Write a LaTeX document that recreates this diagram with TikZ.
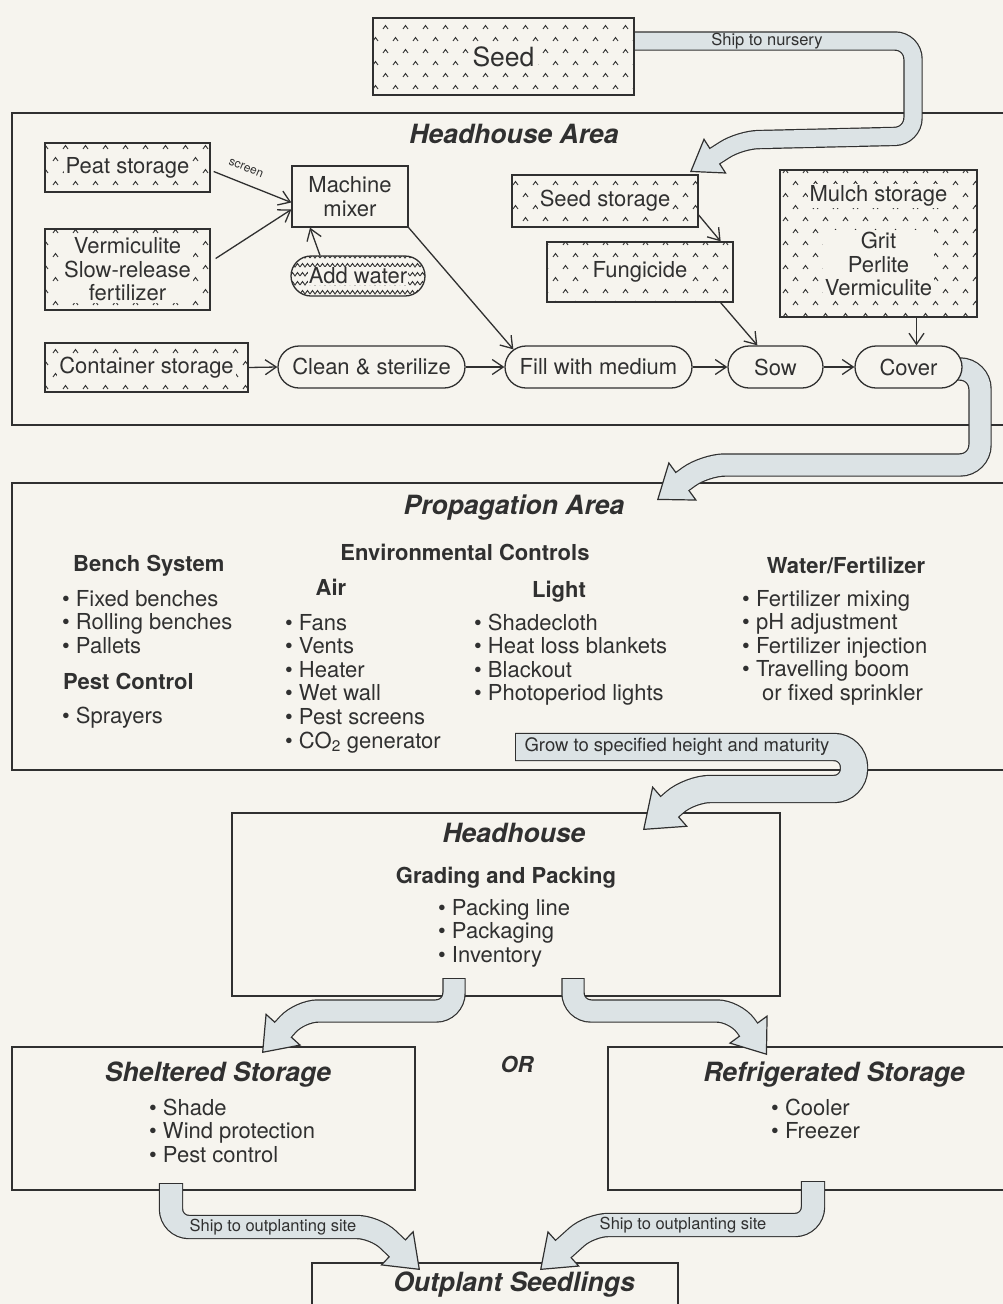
\documentclass[tikz,border=0pt]{standalone}
\usepackage{fontspec}
\setmainfont{TeX Gyre Heros}
\usetikzlibrary{arrows.meta,patterns,calc}
\definecolor{bgc}{HTML}{F6F4EE}
\definecolor{ink}{HTML}{303030}
\definecolor{bandc}{HTML}{DCE3E5}
\pgfdeclarelayer{back}
\pgfdeclarelayer{mid}
\pgfsetlayers{back,mid,main}
\pgfdeclarepatternformonly{carets}{\pgfpoint{-1pt}{-1pt}}{\pgfpoint{21pt}{25pt}}{\pgfpoint{20pt}{24pt}}{%
 \pgfsetlinewidth{0.9pt}%
 \pgfpathmoveto{\pgfpoint{3pt}{3pt}}\pgfpathlineto{\pgfpoint{5.5pt}{6.5pt}}\pgfpathlineto{\pgfpoint{8pt}{3pt}}%
 \pgfpathmoveto{\pgfpoint{13pt}{15pt}}\pgfpathlineto{\pgfpoint{15.5pt}{18.5pt}}\pgfpathlineto{\pgfpoint{18pt}{15pt}}%
 \pgfusepath{stroke}}
\pgfdeclarepatternformonly{zigs}{\pgfpoint{-1pt}{-1pt}}{\pgfpoint{11pt}{10pt}}{\pgfpoint{10pt}{9pt}}{%
 \pgfsetlinewidth{0.9pt}%
 \pgfpathmoveto{\pgfpoint{0pt}{2pt}}\pgfpathlineto{\pgfpoint{2.5pt}{5.5pt}}\pgfpathlineto{\pgfpoint{5pt}{2pt}}\pgfpathlineto{\pgfpoint{7.5pt}{5.5pt}}\pgfpathlineto{\pgfpoint{10pt}{2pt}}%
 \pgfusepath{stroke}}
% #1 band width, #2 start shorten, #3 head length, #4 head width, #5 corner radius, #6 path
\newcommand\bandarrow[6]{%
 \pgfmathsetmacro\bandshort{0.6*#3}%
 \draw[ink, line width=#1pt+2.4pt, rounded corners=#5pt, -{Triangle[length=#3pt, width=#4pt, line width=1.2pt, fill=bandc]}] #6;
 \draw[bandc, line width=#1pt, rounded corners=#5pt, shorten <=#2pt, shorten >=\bandshort pt] #6;}
\tikzset{
 every node/.style={text=ink, font=\fontsize{22}{23.5}\selectfont},
 area/.style={draw=ink, line width=2.6pt},
 hbox/.style={draw=ink, line width=1.3pt, pattern=carets, pattern color=ink, inner sep=0pt},
 clr/.style={fill=bgc, inner sep=2pt},
 pill/.style={draw=ink, line width=1.3pt, fill=bgc, rounded corners=21pt, minimum height=42pt, inner sep=0pt},
 plainbox/.style={draw=ink, line width=1.3pt, fill=bgc, inner sep=0pt},
 arr/.style={draw=ink, line width=1.3pt, -{Straight Barb[length=11pt,width=15pt,line width=1.3pt]}},
 title/.style={font=\fontsize{26.5}{28}\selectfont\bfseries\itshape},
 head/.style={font=\fontsize{22}{23.5}\selectfont\bfseries, inner sep=0pt},
 item/.style={anchor=base west, inner sep=0pt},
 bandtxt/.style={font=\fontsize{16.5}{17}\selectfont, inner sep=0pt},
}
\begin{document}
\begin{tikzpicture}[x=1pt,y=-1pt]
\useasboundingbox (0,0) rectangle (1003,1304);
\begin{pgfonlayer}{back}
\fill[bgc] (0,0) rectangle (1003,1304);
\draw[area] (1006,113) -- (12,113) -- (12,425) -- (1006,425);
\draw[area] (1006,483) -- (12,483) -- (12,770) -- (1006,770);
\draw[area] (232,813) rectangle (780,996);
\draw[area] (12,1047) rectangle (415,1190);
\draw[area] (1006,1047) -- (608,1047) -- (608,1190) -- (1006,1190);
\draw[area] (312,1310) -- (312,1263) -- (678,1263) -- (678,1310);
\end{pgfonlayer}

% ---------- Seed ----------
\node[hbox, minimum width=261pt, minimum height=77pt] (seed) at (503.5,56.5) {};
\node[clr, inner sep=4pt, font=\fontsize{26.5}{28}\selectfont] (seedT) at (seed) {Seed};

% ---------- Headhouse Area ----------
\node[title] (haT) at (514,134) {Headhouse Area};
\node[hbox, minimum width=165pt, minimum height=49pt] (peat) at (127.5,167.5) {};
\node[clr] (peatT) at (peat) {Peat storage};
\node[hbox, minimum width=165pt, minimum height=81pt] (verm) at (127.5,269.5) {};
\node[clr, align=center] (vermT) at (verm) {Vermiculite\\Slow-release\\fertilizer};
\node[plainbox, minimum width=116pt, minimum height=61pt, align=center] (mixer) at (350,196.5) {Machine\\mixer};
\node[draw=ink, line width=1.3pt, rounded corners=20pt, minimum width=134pt, minimum height=40pt, pattern=zigs, pattern color=ink, inner sep=0pt] (water) at (358,276) {};
\node[clr, inner sep=1pt] (waterT) at (water) {Add water};
\node[hbox, minimum width=203pt, minimum height=49pt] (cont) at (146.5,367.5) {};
\node[clr] (contT) at (cont) {Container storage};
\node[pill, minimum width=187pt] (clean) at (371.5,367) {Clean \& sterilize};
\node[pill, minimum width=187pt] (fillm) at (598.5,367) {Fill with medium};
\node[pill, minimum width=95pt] (sow) at (775.5,367) {Sow};
\node[pill, minimum width=107pt] (cover) at (908.5,367) {Cover};
\node[hbox, minimum width=186pt, minimum height=52pt] (seedst) at (605,201) {};
\node[clr] (seedstT) at (seedst) {Seed storage};
\node[hbox, minimum width=186pt, minimum height=60pt] (fung) at (640,272) {};
\node[clr] (fungT) at (fung) {Fungicide};
\node[hbox, minimum width=197pt, minimum height=147pt] (mulch) at (878.5,243.5) {};
\node[clr] (mulchT) at (878.5,196) {Mulch storage};
\node[clr, align=center] (mulchL) at (878.5,264) {Grit\\Perlite\\Vermiculite};

\draw[arr] ($(peat.east)+(3,4)$) -- ($(mixer.west)+(0,6)$);
\node[font=\fontsize{12}{13}\selectfont, inner sep=0pt, rotate=-22] (scr) at (246,168) {screen};
\draw[arr] ($(verm.east)+(5,-11)$) -- ($(mixer.west)+(0,13)$);
\draw[arr] ($(water.north)+(-38,0)$) -- ($(mixer.south)+(-40,0)$);
\draw[arr] (mixer.south east) -- ($(fillm.north west)+(9,4)$);
\draw[arr] (cont.east) -- (clean.west);
\draw[arr] (clean.east) -- (fillm.west);
\draw[arr] (fillm.east) -- (sow.west);
\draw[arr] (sow.east) -- (cover.west);
\draw[arr] ($(seedst.east)+(0,14)$) -- ($(fung.north east)+(-13,0)$);
\draw[arr] ($(fung.south east)+(-13,0)$) -- ($(sow.north west)+(30,0)$);
\draw[arr] ($(mulch.south)+(38,0)$) -- ($(cover.north)+(8,0)$);

% ---------- Propagation Area ----------
\node[title] (paT) at (514,508) {Propagation Area};
\node[head, anchor=base west] (benchH) at (73,571) {Bench System};
\foreach \t [count=\i] in {Fixed benches,Rolling benches,Pallets}
  \node[item] (bench\i) at (62,{606+23.5*(\i-1)}) {\textbullet\ \t};
\node[head, anchor=base west] (pestH) at (63,689) {Pest Control};
\node[item] (pest1) at (62,723) {\textbullet\ Sprayers};
\node[head, anchor=base] (envH) at (465,560) {Environmental Controls};
\node[head, anchor=base] (airH) at (331,595) {Air};
\foreach \t [count=\i] in {Fans,Vents,Heater,Wet wall,Pest screens,{CO\textsubscript{2} generator}}
  \node[item] (air\i) at (285,{630+23.6*(\i-1)}) {\textbullet\ \t};
\node[head, anchor=base] (lightH) at (559,597) {Light};
\foreach \t [count=\i] in {Shadecloth,Heat loss blankets,Blackout,Photoperiod lights}
  \node[item] (light\i) at (474,{630+23.6*(\i-1)}) {\textbullet\ \t};
\node[head, anchor=base] (waterH) at (846,573) {Water/Fertilizer};
\foreach \t [count=\i] in {Fertilizer mixing,pH adjustment,Fertilizer injection,Travelling boom}
  \node[item] (wat\i) at (742,{606+23.5*(\i-1)}) {\textbullet\ \t};
\node[item] (wat5) at (762,700) {or fixed sprinkler};

% ---------- Headhouse ----------
\node[title] (hhT) at (514,833) {Headhouse};
\node[head, anchor=base] (gradH) at (506,883) {Grading and Packing};
\foreach \t [count=\i] in {Packing line,Packaging,Inventory}
  \node[item] (pack\i) at (438,{915+23.5*(\i-1)}) {\textbullet\ \t};

% ---------- Storage ----------
\node[title] (shT) at (218,1075) {Sheltered Storage};
\foreach \t [count=\i] in {Shade,Wind protection,Pest control}
  \node[item] (sh\i) at (149,{1115+23.8*(\i-1)}) {\textbullet\ \t};
\node[font=\fontsize{22}{23.5}\selectfont\bfseries\itshape] (orT) at (517,1064) {OR};
\node[title] (rfT) at (834,1075) {Refrigerated Storage};
\foreach \t [count=\i] in {Cooler,Freezer}
  \node[item] (rf\i) at (771,{1115+23.8*(\i-1)}) {\textbullet\ \t};
\node[title] (outT) at (514,1285) {Outplant Seedlings};

% ---------- big band arrows ----------
\begin{pgfonlayer}{mid}
\bandarrow{17}{0}{30}{42}{18}{(634,41) -- (913,41) -- (913,136) -- (740,140) -- (690,172)}
\bandarrow{21}{0}{32}{48}{20}{(945,369) -- (980,369) -- (980,465) -- (705,465) -- (657,500)}
\bandarrow{26}{1.2}{36}{54}{20}{(515,747) -- (854,747) -- (854,789) -- (690,789) -- (643,830)}
\bandarrow{21}{1.2}{32}{48}{18}{(454,978) -- (454,1011) -- (300,1011) -- (262,1053)}
\bandarrow{21}{1.2}{32}{48}{18}{(573,978) -- (573,1011) -- (735,1011) -- (767,1055)}
\bandarrow{22}{1.2}{32}{48}{18}{(171,1183) -- (171,1227) -- (375,1227) -- (420,1270)}
\bandarrow{22}{1.2}{32}{48}{18}{(813,1181) -- (813,1225) -- (590,1225) -- (540,1270)}
\end{pgfonlayer}
\node[bandtxt] (shipN) at (767,41) {Ship to nursery};
\node[bandtxt, font=\fontsize{18.5}{20}\selectfont] (growT) at (677,747) {Grow to specified height and maturity};
\node[bandtxt] (ship1) at (273,1227) {Ship to outplanting site};
\node[bandtxt] (ship2) at (683,1225) {Ship to outplanting site};
\end{tikzpicture}
\end{document}
